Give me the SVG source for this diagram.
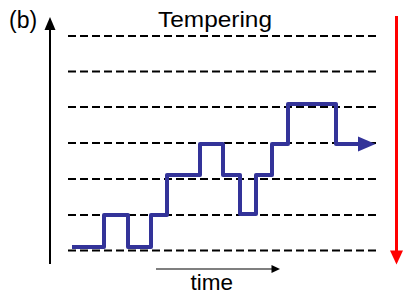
<svg xmlns="http://www.w3.org/2000/svg" width="406" height="305" viewBox="0 0 406 305">
<style>
.txt{font-family:"Liberation Sans",Arial,sans-serif;fill:#000}
.dash{stroke:#000;stroke-width:2;stroke-dasharray:8 4;fill:none}
.blue{stroke:#333399;stroke-width:4;fill:none;stroke-linejoin:round}
</style>
<rect width="406" height="305" fill="#fff"/>
<g id="levels">
<line class="dash" x1="68" y1="36" x2="380" y2="36"/>
<line class="dash" x1="68" y1="71.5" x2="380" y2="71.5"/>
<line class="dash" x1="68" y1="107" x2="380" y2="107"/>
<line class="dash" x1="68" y1="143" x2="380" y2="143"/>
<line class="dash" x1="68" y1="179" x2="380" y2="179"/>
<line class="dash" x1="68" y1="215" x2="380" y2="215"/>
<line class="dash" x1="68" y1="250.5" x2="380" y2="250.5"/>
</g>
<g id="connectors">
<g id="y-axis">
<line x1="50" y1="28" x2="50" y2="264" stroke="#000" stroke-width="2"/>
<polygon points="50,17 55.5,30 44.5,30" fill="#000"/>
</g>
<g id="time-axis">
<line x1="156" y1="269" x2="273" y2="269" stroke="#000" stroke-width="1.2"/>
<polygon points="280,269 271.5,265 271.5,273" fill="#000"/>
</g>
<g id="red-arrow">
<line x1="396.5" y1="16" x2="396.5" y2="252" stroke="#ff0000" stroke-width="3"/>
<polygon points="396.5,264.5 390,250.5 403,250.5" fill="#ff0000"/>
</g>
<g id="walk">
<path class="blue" d="M72,247 H104 V215 H128 V247 H151 V215 H167 V175 H200 V144 H223 V175 H240 V214 H256 V175 H272 V144 H288 V104 H336 V144 H360"/>
<polygon points="375.5,144 358,136.5 358,151.5" fill="#333399"/>
</g>
</g>
<g id="labels">
<text class="txt" x="9" y="28" font-size="23">(b)</text>
<text class="txt" x="158" y="27" font-size="22" textLength="114" lengthAdjust="spacingAndGlyphs">Tempering</text>
<text class="txt" x="190.5" y="290" font-size="22.5">time</text>
</g>
</svg>
